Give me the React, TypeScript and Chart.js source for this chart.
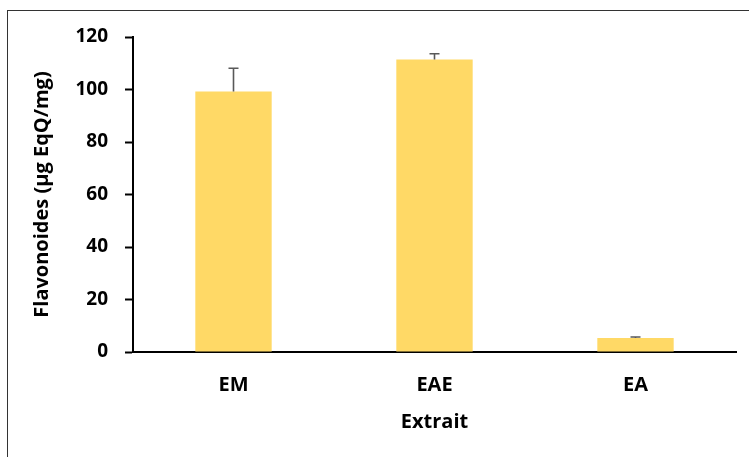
import React, { useEffect, useRef } from "react";
import { Chart, registerables } from "chart.js";

Chart.register(...registerables);

const categories = ["EM", "EAE", "EA"];
const values = [99.2, 111.4, 5.3];
const errors = [8.9, 2.2, 0.4];
const yTicks = [0, 20, 40, 60, 80, 100, 120];

const FONT = "'Open Sans'";

const errorBarPlugin = {
  id: "errorBars",
  afterDatasetsDraw(chart: any) {
    const ctx = chart.ctx;
    const meta = chart.getDatasetMeta(0);
    const yScale = chart.scales.y;
    ctx.save();
    ctx.strokeStyle = "#595959";
    ctx.lineWidth = 1.6;
    meta.data.forEach((bar: any, i: number) => {
      const x = bar.x;
      const yTop = yScale.getPixelForValue(values[i] + errors[i]);
      const yVal = yScale.getPixelForValue(values[i]);
      ctx.beginPath();
      ctx.moveTo(x, yVal);
      ctx.lineTo(x, yTop);
      ctx.moveTo(x - 5, yTop);
      ctx.lineTo(x + 5, yTop);
      ctx.stroke();
    });
    ctx.restore();
  },
};

export default function App() {
  const ref = useRef<HTMLCanvasElement>(null);
  useEffect(() => {
    document.body.style.margin = "0";
    const chart = new Chart(ref.current as HTMLCanvasElement, {
      type: "bar",
      data: {
        labels: categories,
        datasets: [
          {
            data: values,
            backgroundColor: "#FFD966",
            barPercentage: 0.38,
            categoryPercentage: 1,
          },
        ],
      },
      options: {
        animation: false,
        responsive: false,
        maintainAspectRatio: false,
        layout: { padding: { top: 37, right: 13, left: 0, bottom: 0 } },
        plugins: { legend: { display: false }, tooltip: { enabled: false } },
        scales: {
          x: {
            afterFit: (s: any) => {
              s.height = 105;
            },
            grid: { display: false, drawTicks: false },
            border: { display: true, color: "#000", width: 2 },
            ticks: {
              color: "#000",
              padding: 21,
              font: { family: FONT, size: 20, weight: 700 },
            },
            title: {
              display: true,
              text: "Extrait",
              color: "#000",
              padding: { top: 0, bottom: 23 },
              font: { family: FONT, size: 20, weight: 700 },
            },
          },
          y: {
            min: 0,
            max: 120,
            afterFit: (s: any) => {
              s.width = 133;
            },
            afterBuildTicks: (s: any) => {
              s.ticks = yTicks.map((v) => ({ value: v }));
            },
            grid: {
              drawOnChartArea: false,
              drawTicks: true,
              tickLength: 8,
              tickColor: "#000",
              tickWidth: 2,
            },
            border: { display: true, color: "#000", width: 2 },
            ticks: {
              color: "#000",
              padding: 17,
              font: { family: FONT, size: 19, weight: 700 },
            },
            title: {
              display: true,
              text: "Flavonoides (µg EqQ/mg)",
              color: "#000",
              padding: { top: 30, bottom: 0 },
              font: { family: FONT, size: 20, weight: 700 },
            },
          },
        },
      },
      plugins: [errorBarPlugin],
    });
    return () => chart.destroy();
  }, []);

  return (
    <div style={{ position: "relative", width: 749, height: 457, overflow: "hidden", background: "#fff" }}>
      <div
        style={{
          position: "absolute",
          left: 7,
          top: 10,
          width: 800,
          height: 500,
          border: "1px solid #333",
          boxSizing: "border-box",
        }}
      />
      <canvas ref={ref} width={749} height={457} style={{ position: "absolute", left: 0, top: 0, display: "block" }} />
    </div>
  );
}
